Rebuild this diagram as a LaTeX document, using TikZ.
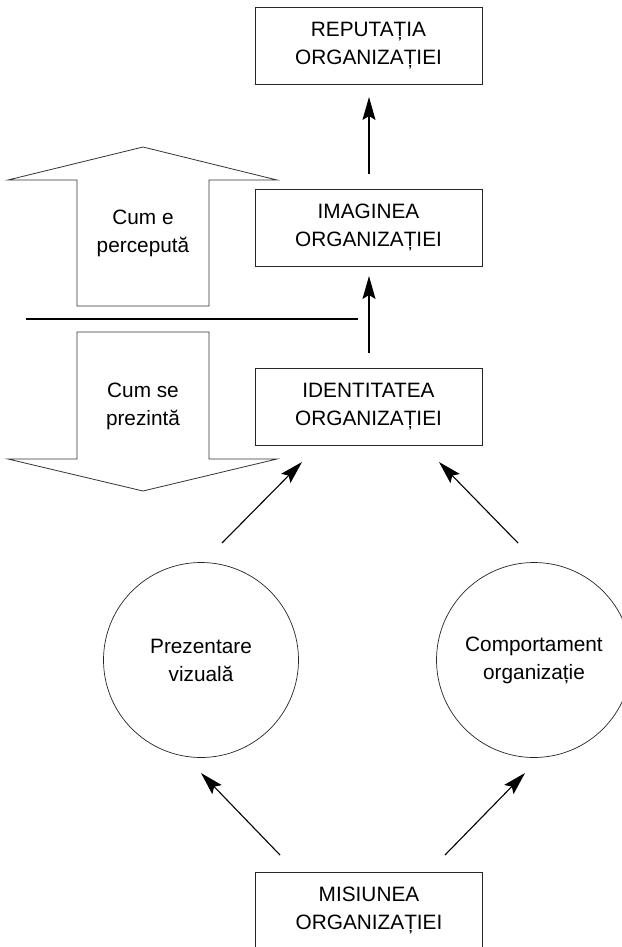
\documentclass[tikz,border=0pt]{standalone}
\usepackage{fontspec}
\setmainfont{Liberation Sans}
\usetikzlibrary{arrows.meta}
\begin{document}
\begin{tikzpicture}[x=1pt,y=-1pt,
  every node/.style={font=\fontsize{20.8}{28}\selectfont, align=center, text=black},
  box/.style={draw=black!85, line width=0.9pt, minimum width=227pt, minimum height=77pt, inner sep=0pt},
  ring/.style={draw=black!85, line width=0.7pt, circle, minimum size=195pt, inner sep=0pt},
  flow/.style={draw=black, line width=1.1pt, -{Stealth[length=23pt,width=13pt,inset=4pt]}},
  bigarrow/.style={draw=black!80, line width=0.8pt, line join=miter}]
\useasboundingbox (0,0) rectangle (621,947);

% boxes
\node[box] (rep) at (368.5,45.5) {REPUTAȚIA\\ORGANIZAȚIEI};
\node[box] (img) at (368.5,227.5) {IMAGINEA\\ORGANIZAȚIEI};
\node[box] (idt) at (368.5,407) {IDENTITATEA\\ORGANIZAȚIEI};
\node[box] (mis) at (369,910.5) {MISIUNEA\\ORGANIZAȚIEI};

% circles
\node[ring] (viz) at (201,660) {Prezentare\\vizuală};
\node[ring] (comp) at (534,660) {Comportament\\organizație};

% block arrows
\draw[bigarrow] (77,306) -- (77,180) -- (8,180) -- (143,147) -- (277,180) -- (209,180) -- (209,306) -- cycle;
\node (pe) at (143,233) {Cum e\\percepută};
\draw[bigarrow] (77,332) -- (77,459) -- (8,459) -- (143,491) -- (277,459) -- (209,459) -- (209,332) -- cycle;
\node (pr) at (143,406) {Cum se\\prezintă};

% dividing line
\coordinate (divL) at (26,319);
\coordinate (divR) at (358,319);
\draw[line width=1.1pt] (divL) -- (divR);

% connectors
\coordinate (a1) at (369,174);
\coordinate (a1t) at (369,97);
\draw[flow] (a1) -- (a1t);
\coordinate (a2) at (369,353);
\coordinate (a2t) at (369,276);
\draw[flow] (a2) -- (a2t);

\coordinate (b1) at (222,543);
\coordinate (b1t) at (302,462);
\draw[flow] (b1) -- (b1t);
\coordinate (b2) at (518,543);
\coordinate (b2t) at (439,462);
\draw[flow] (b2) -- (b2t);

\coordinate (c1) at (280,855);
\coordinate (c1t) at (201,773);
\draw[flow] (c1) -- (c1t);
\coordinate (c2) at (445,855);
\coordinate (c2t) at (525,773);
\draw[flow] (c2) -- (c2t);
\end{tikzpicture}
\end{document}
